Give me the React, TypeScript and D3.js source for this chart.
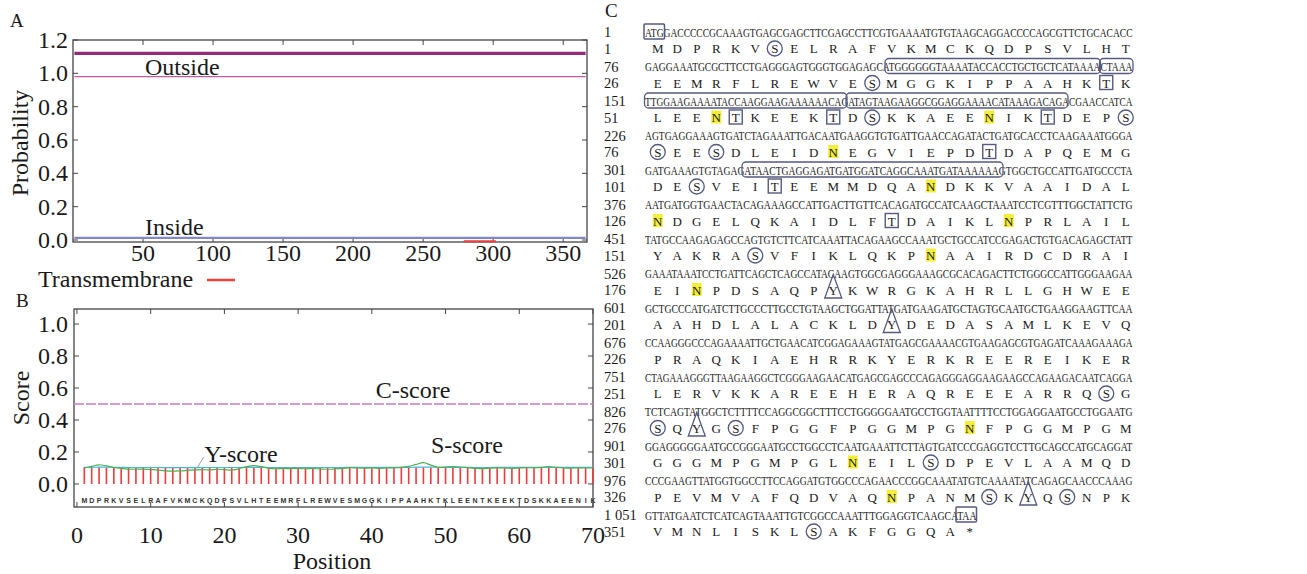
import * as d3 from 'd3';

const FONT = '"Liberation Serif", "Times New Roman", Times, serif';
const SANS = '"Liberation Sans", Arial, sans-serif';
const INK = '#1a1a1a';
const MARK = '#555a7e';

// ---- Panel A: transmembrane prediction ----
const aProbTicks = [0, 0.2, 0.4, 0.6, 0.8, 1.0, 1.2];
const aPosTicks = [50, 100, 150, 200, 250, 300, 350];
const topologyLine = [[1, 1.12], [366, 1.12]];
const outsideProb = [[1, 0.98], [366, 0.98]];
const insideProb = [[1, 0.013], [366, 0.013]];
const tmProb = [[279, -0.008], [302, -0.008]];

// ---- Panel B: signal peptide scores ----
const bScoreTicks = [0, 0.2, 0.4, 0.6, 0.8, 1.0];
const bPosTicks = [0, 10, 20, 30, 40, 50, 60, 70];
const signalSeq = 'MDPRKVSELRAFVKMCKQDPSVLHTEEMRFLREWVESMGGKIPPAAHKTKLEENTKEEKTDSKKAEENIK';
const cScore = [
  0.106, 0.105, 0.105, 0.104, 0.105, 0.105, 0.104, 0.105, 0.105, 0.104,
  0.105, 0.105, 0.104, 0.105, 0.105, 0.104, 0.105, 0.105, 0.104, 0.105,
  0.105, 0.104, 0.105, 0.105, 0.104, 0.105, 0.105, 0.104, 0.105, 0.105,
  0.104, 0.105, 0.105, 0.104, 0.105, 0.105, 0.104, 0.105, 0.105, 0.104,
  0.105, 0.105, 0.104, 0.105, 0.105, 0.104, 0.105, 0.105, 0.104, 0.105,
  0.105, 0.104, 0.105, 0.105, 0.104, 0.105, 0.105, 0.104, 0.105, 0.105,
  0.104, 0.105, 0.105, 0.104, 0.105, 0.105, 0.104, 0.105, 0.105, 0.104,
];
const sScore = [
  0.100, 0.110, 0.120, 0.113, 0.103, 0.097, 0.093, 0.092, 0.093, 0.090,
  0.087, 0.082, 0.080, 0.082, 0.085, 0.088, 0.090, 0.088, 0.092, 0.090,
  0.086, 0.095, 0.108, 0.115, 0.108, 0.098, 0.095, 0.097, 0.096, 0.098,
  0.095, 0.097, 0.094, 0.092, 0.094, 0.097, 0.102, 0.100, 0.099, 0.100,
  0.098, 0.100, 0.101, 0.104, 0.110, 0.122, 0.133, 0.118, 0.104, 0.106,
  0.108, 0.106, 0.102, 0.098, 0.096, 0.099, 0.101, 0.100, 0.098, 0.100,
  0.102, 0.101, 0.104, 0.109, 0.104, 0.100, 0.099, 0.101, 0.100, 0.100,
];
const yScore = [
  0.104, 0.104, 0.105, 0.105, 0.104, 0.104, 0.103, 0.103, 0.103, 0.103,
  0.103, 0.102, 0.102, 0.102, 0.102, 0.102, 0.103, 0.103, 0.103, 0.103,
  0.103, 0.103, 0.104, 0.104, 0.104, 0.103, 0.103, 0.103, 0.103, 0.103,
  0.103, 0.103, 0.103, 0.103, 0.103, 0.103, 0.104, 0.104, 0.104, 0.104,
  0.104, 0.104, 0.104, 0.104, 0.104, 0.105, 0.105, 0.105, 0.104, 0.104,
  0.104, 0.104, 0.104, 0.103, 0.103, 0.103, 0.104, 0.104, 0.104, 0.104,
  0.104, 0.104, 0.104, 0.104, 0.104, 0.104, 0.104, 0.104, 0.104, 0.104,
];
const cutoff = 0.5;

// ---- Panel C: cDNA and deduced protein ----
const nucRows = [
  'ATGGACCCCCGCAAAGTGAGCGAGCTTCGAGCCTTCGTGAAAATGTGTAAGCAGGACCCCAGCGTTCTGCACACC',
  'GAGGAAATGCGCTTCCTGAGGGAGTGGGTGGAGAGCATGGGGGGTAAAATACCACCTGCTGCTCATAAAACTAAA',
  'TTGGAAGAAAATACCAAGGAAGAAAAAACAGATAGTAAGAAGGCGGAGGAAAACATAAAGACAGACGAACCATCA',
  'AGTGAGGAAAGTGATCTAGAAATTGACAATGAAGGTGTGATTGAACCAGATACTGATGCACCTCAAGAAATGGGA',
  'GATGAAAGTGTAGAGATAACTGAGGAGATGATGGATCAGGCAAATGATAAAAAAGTGGCTGCCATTGATGCCCTA',
  'AATGATGGTGAACTACAGAAAGCCATTGACTTGTTCACAGATGCCATCAAGCTAAATCCTCGTTTGGCTATTCTG',
  'TATGCCAAGAGAGCCAGTGTCTTCATCAAATTACAGAAGCCAAATGCTGCCATCCGAGACTGTGACAGAGCTATT',
  'GAAATAAATCCTGATTCAGCTCAGCCATACAAGTGGCGAGGGAAAGCGCACAGACTTCTGGGCCATTGGGAAGAA',
  'GCTGCCCATGATCTTGCCCTTGCCTGTAAGCTGGATTATGATGAAGATGCTAGTGCAATGCTGAAGGAAGTTCAA',
  'CCAAGGGCCCAGAAAATTGCTGAACATCGGAGAAAGTATGAGCGAAAACGTGAAGAGCGTGAGATCAAAGAAAGA',
  'CTAGAAAGGGTTAAGAAGGCTCGGGAAGAACATGAGCGAGCCCAGAGGGAGGAAGAAGCCAGAAGACAATCAGGA',
  'TCTCAGTATGGCTCTTTTCCAGGCGGCTTTCCTGGGGGAATGCCTGGTAATTTTCCTGGAGGAATGCCTGGAATG',
  'GGAGGGGGAATGCCGGGAATGCCTGGCCTCAATGAAATTCTTAGTGATCCCGAGGTCCTTGCAGCCATGCAGGAT',
  'CCCGAAGTTATGGTGGCCTTCCAGGATGTGGCCCAGAACCCGGCAAATATGTCAAAATATCAGAGCAACCCAAAG',
  'GTTATGAATCTCATCAGTAAATTGTCGGCCAAATTTGGAGGTCAAGCATAA',
];
const aaRows = [
  'MDPRKVSELRAFVKMCKQDPSVLHT',
  'EEMRFLREWVESMGGKIPPAAHKTK',
  'LEENTKEEKTDSKKAEENIKTDEPS',
  'SEESDLEIDNEGVIEPDTDAPQEMG',
  'DESVEITEEMMDQANDKKVAAIDAL',
  'NDGELQKAIDLFTDAIKLNPRLAIL',
  'YAKRASVFIKLQKPNAAIRDCDRAI',
  'EINPDSAQPYKWRGKAHRLLGHWEE',
  'AAHDLALACKLDYDEDASAMLKEVQ',
  'PRAQKIAEHRRKYERKREEREIKER',
  'LERVKKAREEHERAQREEEARRQSG',
  'SQYGSFPGGFPGGMPGNFPGGMPGM',
  'GGGMPGMPGLNEILSDPEVLAAMQD',
  'PEVMVAFQDVAQNPANMSKYQSNPK',
  'VMNLISKLSAKFGGQA*',
];
const nucLabels = ['1', '76', '151', '226', '301', '376', '451', '526', '601', '676', '751', '826', '901', '976', '1 051'];
const aaLabels = ['1', '26', '51', '76', '101', '126', '151', '176', '201', '226', '251', '276', '301', '326', '351'];
// [row, residue index]
const glycoN = [[2, 3], [2, 17], [3, 9], [4, 14], [5, 0], [5, 18], [6, 14], [7, 2], [11, 16], [12, 10], [13, 12]];
const phosS = [[0, 6], [1, 11], [2, 11], [2, 24], [3, 0], [3, 3], [4, 2], [6, 5], [10, 23], [11, 0], [11, 4], [12, 14], [13, 17], [13, 21], [14, 8]];
const phosT = [[1, 23], [2, 4], [2, 9], [2, 20], [3, 17], [4, 6], [5, 12]];
const phosY = [[7, 9], [8, 12], [11, 2], [13, 19]];
// [row, first base, last base]
const codonBoxes = [[0, 0, 2], [14, 48, 50]];
const motifBoxes = [[1, 37, 69], [1, 70, 74], [2, 0, 30], [2, 31, 64], [4, 15, 54]];

const App = () => {
  // scales A
  const ax = d3.scaleLinear().domain([0, 367]).range([73, 587]);
  const ay = d3.scaleLinear().domain([-0.012, 1.2]).range([242, 40]);
  const aLine = d3.line<number[]>().x((d) => ax(d[0])).y((d) => ay(d[1]));

  // scales B
  const bx = d3.scaleLinear().domain([-0.4, 70]).range([74, 593]);
  const by = d3.scaleLinear().domain([-0.144, 1.094]).range([507, 309]);
  const sLine = d3
    .line<number>()
    .x((_, i) => bx(i + 1))
    .y((d) => by(d))
    .curve(d3.curveCatmullRom);

  // layout C
  const charX = d3.scaleLinear().domain([0, 75]).range([645, 1132.5]);
  const rowY = d3.scaleLinear().domain([0, 14]).range([32, 515]);
  const aaY = (r: number) => rowY(r) + 16.5;
  const aaX = (i: number) => charX(i * 3 + 1.5) + 3;

  const tick = 5;

  return (
    <svg
      width={1307}
      height={574}
      style={{position: 'absolute', left: 0, top: 0, background: '#fff'}}
      fontFamily={FONT}
    >
      {/* ===== Panel A ===== */}
      <text x={10} y={27} fontSize={19} fill={INK}>A</text>
      <rect x={73} y={40} width={514} height={202} fill='none' stroke='#444' strokeWidth={1.3} />
      {aProbTicks.map((t) => (
        <g key={'ay' + t}>
          <line x1={73} x2={73 + tick} y1={ay(t)} y2={ay(t)} stroke='#444' />
          <line x1={587} x2={587 - tick} y1={ay(t)} y2={ay(t)} stroke='#444' />
          <text x={68} y={ay(t) + 8} fontSize={24} textAnchor='end' fill={INK}>{t.toFixed(1)}</text>
        </g>
      ))}
      {aPosTicks.map((t) => (
        <g key={'ax' + t}>
          <line x1={ax(t)} x2={ax(t)} y1={242} y2={242 - tick} stroke='#444' />
          <line x1={ax(t)} x2={ax(t)} y1={40} y2={40 + tick} stroke='#444' />
          <text x={ax(t)} y={261} fontSize={24} textAnchor='middle' fill={INK}>{t}</text>
        </g>
      ))}
      <path d={aLine(topologyLine)!} stroke='#952a78' strokeWidth={3.2} fill='none' />
      <path d={aLine(outsideProb)!} stroke='#c25aa0' strokeWidth={1.4} fill='none' />
      <path d={aLine(insideProb)!} stroke='#8287c8' strokeWidth={2.2} fill='none' />
      <path d={aLine(tmProb)!} stroke='#e8413c' strokeWidth={2} fill='none' />
      <text x={145} y={75} fontSize={24} fill={INK}>Outside</text>
      <text x={145} y={235} fontSize={24} fill={INK}>Inside</text>
      <text transform='translate(28,143) rotate(-90)' fontSize={24} textAnchor='middle' fill={INK}>Probability</text>
      <text x={38} y={287} fontSize={24} fill={INK}>Transmembrane</text>
      <line x1={207} x2={235} y1={280} y2={280} stroke='#e8413c' strokeWidth={2.5} />

      {/* ===== Panel B ===== */}
      <text x={16} y={307} fontSize={19} fill={INK}>B</text>
      <rect x={74} y={309} width={519} height={198} fill='none' stroke='#444' strokeWidth={1.3} />
      {bScoreTicks.map((t) => (
        <g key={'by' + t}>
          <line x1={74} x2={74 + tick} y1={by(t)} y2={by(t)} stroke='#444' />
          <line x1={593} x2={593 - tick} y1={by(t)} y2={by(t)} stroke='#444' />
          <text x={68} y={by(t) + 8} fontSize={24} textAnchor='end' fill={INK}>{t.toFixed(1)}</text>
        </g>
      ))}
      {bPosTicks.map((t) => (
        <g key={'bx' + t}>
          <line x1={bx(t)} x2={bx(t)} y1={507} y2={507 - tick} stroke='#444' />
          <line x1={bx(t)} x2={bx(t)} y1={309} y2={309 + tick} stroke='#444' />
          <text x={bx(t)} y={543} fontSize={24} textAnchor='middle' fill={INK}>{t}</text>
        </g>
      ))}
      <line x1={bx(-0.4)} x2={bx(70)} y1={by(cutoff)} y2={by(cutoff)} stroke='#c37fc3' strokeWidth={1.3} strokeDasharray='10 2' />
      {cScore.map((v, i) => (
        <line key={'c' + i} x1={bx(i + 1)} x2={bx(i + 1)} y1={by(0)} y2={by(v)} stroke='#ec3b3b' strokeWidth={1.6} />
      ))}
      <path d={sLine(yScore)!} stroke='#4db3dd' strokeWidth={1.2} fill='none' />
      <path d={sLine(sScore)!} stroke='#4fae4f' strokeWidth={1.2} fill='none' />
      {signalSeq.split('').map((c, i) => (
        <text key={'sq' + i} x={bx(i + 1)} y={503} fontSize={7} fontWeight='bold' fontFamily={SANS} textAnchor='middle' fill='#333'>{c}</text>
      ))}
      <text x={413} y={398} fontSize={24} textAnchor='middle' fill={INK}>C-score</text>
      <text x={241} y={462} fontSize={24} textAnchor='middle' fill={INK}>Y-score</text>
      <line x1={bx(17.2)} x2={bx(16.3)} y1={by(0.17)} y2={by(0.1)} stroke='#888' strokeWidth={0.8} />
      <text x={467} y={453} fontSize={24} textAnchor='middle' fill={INK}>S-score</text>
      <text transform='translate(29,398) rotate(-90)' fontSize={24} textAnchor='middle' fill={INK}>Score</text>
      <text x={332} y={569} fontSize={24} textAnchor='middle' fill={INK}>Position</text>

      {/* ===== Panel C ===== */}
      <text x={605} y={17} fontSize={19} fill={INK}>C</text>
      {glycoN.map(([r, i]) => (
        <rect key={'n' + r + '-' + i} x={aaX(i) - 5} y={aaY(r) - 7} width={10} height={13} fill='#f2ee3a' />
      ))}
      {nucRows.map((s, r) => (
        <g key={'row' + r}>
          <text x={604} y={rowY(r) + 5} fontSize={14.5} fill={INK}>{nucLabels[r]}</text>
          <text x={604} y={aaY(r) + 5} fontSize={14.5} fill={INK}>{aaLabels[r]}</text>
          {/* condensed base line: narrow font, stretched vertically */}
          <text
            transform={`translate(${charX(0)},${rowY(r) + 4.7}) scale(1,1.3)`}
            fontSize={10}
            textLength={charX(s.length) - charX(0)}
            lengthAdjust='spacingAndGlyphs'
            fill={INK}
          >
            {s}
          </text>
          {aaRows[r].split('').map((c, i) => (
            <text key={i} x={aaX(i)} y={aaY(r) + 4.7} fontSize={13} textAnchor='middle' fill={INK}>{c}</text>
          ))}
        </g>
      ))}
      {motifBoxes.map(([r, a, b]) => (
        <rect key={'m' + r + '-' + a} x={charX(a) - 0.5} y={rowY(r) - 8} width={charX(b + 1) - charX(a) + 1} height={15} rx={4} fill='none' stroke={MARK} strokeWidth={1.3} />
      ))}
      {codonBoxes.map(([r, a, b]) => (
        <rect key={'cb' + r} x={charX(a) - 1} y={rowY(r) - 8} width={charX(b + 1) - charX(a) + 1} height={15} rx={1} fill='none' stroke={MARK} strokeWidth={1.5} />
      ))}
      {phosS.map(([r, i]) => (
        <circle key={'s' + r + '-' + i} cx={aaX(i)} cy={aaY(r)} r={7.5} fill='none' stroke={MARK} strokeWidth={1.3} />
      ))}
      {phosT.map(([r, i]) => (
        <rect key={'t' + r + '-' + i} x={aaX(i) - 6.5} y={aaY(r) - 7.5} width={13} height={14} fill='none' stroke={MARK} strokeWidth={1.4} />
      ))}
      {phosY.map(([r, i]) => (
        <path
          key={'y' + r + '-' + i}
          d={`M${aaX(i)},${rowY(r) + 1} L${aaX(i) - 8.5},${aaY(r) + 8} L${aaX(i) + 8.5},${aaY(r) + 8} Z`}
          fill='none'
          stroke={MARK}
          strokeWidth={1.3}
        />
      ))}
    </svg>
  );
};

export default App;
